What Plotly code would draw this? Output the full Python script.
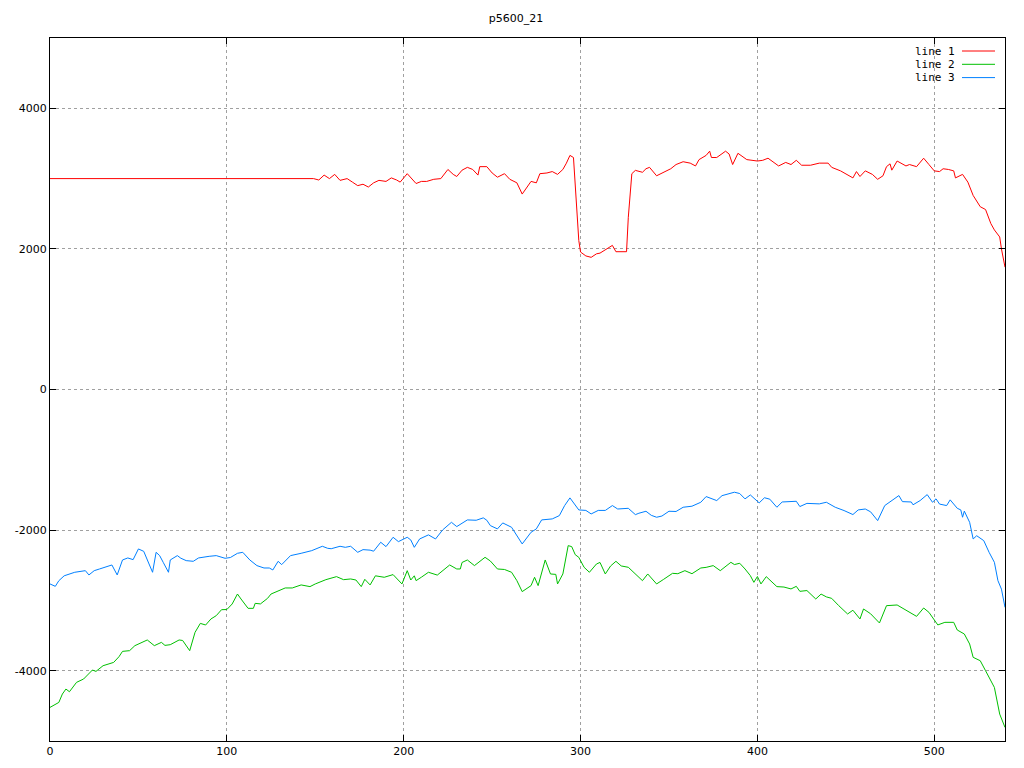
import plotly.graph_objects as go

# ---- data ----
line1_x = [0, 149, 152, 155, 158, 161, 164, 168, 171, 174, 177, 180, 183, 186, 190, 193, 196, 198, 202, 205,
           207, 210, 213, 217, 221, 225, 228, 230, 233, 236, 239, 242, 243, 247, 250, 253, 257, 260, 264, 267,
           270, 272, 275, 277, 281, 284, 287, 290, 292, 294, 296, 297, 298, 299, 300, 303, 306, 309, 311, 315,
           318, 320, 323, 326, 327, 329, 331, 335, 337, 339, 343, 347, 351, 354, 358, 362, 365, 367, 371, 373,
           374, 377, 382, 384, 386, 389, 394, 400, 403, 406, 412, 416, 419, 422, 425, 430, 435, 440, 442, 447,
           451, 454, 456, 458, 461, 465, 468, 471, 473, 475, 476, 479, 484, 486, 490, 494, 497, 500, 503, 505,
           508, 511, 512, 516, 519, 522, 526, 529, 532, 534, 537, 538, 540]
line1_y = [3000, 3000, 2980, 3050, 3000, 3060, 2975, 3000, 2950, 2900, 2920, 2880, 2940, 2975, 2960, 3010, 2980, 2950, 3070, 2990,
           2930, 2960, 2960, 2990, 3000, 3130, 3060, 3030, 3120, 3160, 3130, 3050, 3170, 3170, 3080, 3020, 3070, 2990, 2940, 2780,
           2880, 2960, 2940, 3070, 3080, 3100, 3060, 3130, 3220, 3330, 3300, 2900, 2500, 2120, 1955, 1900, 1880, 1930, 1940, 2000,
           2050, 1960, 1955, 1960, 2450, 3070, 3117, 3090, 3140, 3160, 3040, 3090, 3140, 3200, 3240, 3220, 3180, 3270, 3330, 3390,
           3300, 3300, 3390, 3350, 3200, 3360, 3270, 3250, 3260, 3290, 3180, 3230, 3200, 3260, 3190, 3190, 3220, 3220, 3160, 3110,
           3050, 3010, 3100, 3030, 3110, 3060, 2990, 3040, 3170, 3210, 3120, 3250, 3180, 3200, 3170, 3290, 3200, 3110, 3100, 3140,
           3130, 3110, 3010, 3060, 2950, 2760, 2600, 2560, 2360, 2270, 2170, 2000, 1740]

line2_x = [0, 5, 7, 9, 11, 15, 19, 24, 26, 30, 36, 39, 41, 45, 48, 55, 59, 63, 65, 68,
           73, 75, 79, 82, 85, 88, 91, 94, 97, 100, 103, 106, 108, 112, 115, 116, 119, 123, 125, 129,
           133, 137, 142, 147, 150, 156, 162, 166, 170, 173, 176, 178, 181, 184, 189, 194, 199, 202, 204, 206,
           207, 210, 214, 219, 226, 230, 232, 233, 236, 240, 246, 249, 253, 257, 261, 264, 267, 272, 274, 276,
           280, 283, 286, 287, 290, 293, 295, 297, 299, 302, 305, 309, 311, 314, 317, 320, 323, 327, 331, 335,
           338, 343, 347, 352, 355, 359, 363, 366, 368, 371, 375, 379, 383, 385, 387, 390, 393, 396, 398, 400,
           402, 405, 411, 415, 419, 422, 424, 428, 433, 436, 439, 442, 446, 451, 454, 458, 460, 464, 469, 473,
           479, 486, 490, 494, 497, 502, 506, 511, 513, 517, 520, 522, 526, 529, 534, 537, 540]
line2_y = [-4522, -4451, -4332, -4261, -4299, -4166, -4118, -3990, -4010, -3929, -3882, -3801, -3725, -3715, -3644, -3563, -3644, -3597, -3640, -3630,
           -3563, -3570, -3715, -3455, -3327, -3350, -3264, -3217, -3132, -3130, -3051, -2909, -2980, -3113, -3113, -3042, -3050, -2971, -2909, -2862,
           -2823, -2823, -2780, -2804, -2766, -2705, -2662, -2705, -2695, -2710, -2804, -2700, -2780, -2650, -2671, -2633, -2766, -2577, -2710, -2650,
           -2719, -2670, -2600, -2640, -2496, -2553, -2553, -2460, -2425, -2505, -2387, -2440, -2553, -2560, -2600, -2719, -2875, -2790, -2671, -2790,
           -2425, -2624, -2630, -2766, -2624, -2221, -2235, -2350, -2387, -2529, -2600, -2482, -2460, -2624, -2510, -2444, -2510, -2529, -2620, -2719,
           -2624, -2766, -2700, -2615, -2620, -2577, -2620, -2577, -2539, -2530, -2505, -2577, -2505, -2458, -2490, -2472, -2553, -2648, -2743, -2660,
           -2766, -2662, -2804, -2810, -2837, -2800, -2871, -2860, -2980, -2910, -2950, -2971, -3075, -3193, -3140, -3264, -3122, -3190, -3321, -3075,
           -3065, -3170, -3227, -3108, -3170, -3349, -3312, -3312, -3421, -3478, -3620, -3810, -3858, -4000, -4238, -4617, -4807]

line3_x = [0, 3, 5, 8, 14, 20, 22, 25, 28, 32, 35, 38, 41, 44, 47, 50, 53, 56, 58, 60,
           62, 64, 67, 68, 72, 74, 77, 81, 84, 90, 94, 99, 102, 106, 109, 113, 117, 121, 124, 126,
           129, 131, 136, 142, 148, 154, 157, 159, 164, 167, 170, 174, 177, 181, 183, 187, 190, 194, 197, 202,
           204, 206, 209, 214, 218, 222, 227, 230, 236, 241, 245, 247, 249, 253, 256, 261, 264, 267, 272, 275,
           278, 284, 288, 291, 294, 297, 299, 303, 306, 310, 314, 318, 321, 327, 331, 333, 337, 340, 343, 346,
           350, 354, 358, 363, 368, 371, 373, 377, 380, 387, 390, 393, 396, 401, 404, 407, 411, 414, 422, 424,
           428, 435, 439, 444, 449, 454, 457, 461, 464, 468, 472, 476, 480, 482, 487, 488, 492, 496, 499, 501,
           503, 507, 509, 513, 515, 516, 517, 520, 522, 524, 528, 531, 534, 536, 538, 540]
line3_y = [-2766, -2800, -2720, -2650, -2600, -2577, -2638, -2577, -2553, -2520, -2496, -2638, -2425, -2396, -2420, -2268, -2302, -2482, -2600, -2316,
           -2363, -2458, -2600, -2425, -2363, -2400, -2434, -2444, -2396, -2373, -2363, -2401, -2390, -2330, -2316, -2425, -2505, -2539, -2539, -2567,
           -2444, -2491, -2363, -2330, -2292, -2230, -2259, -2265, -2230, -2245, -2230, -2316, -2278, -2285, -2300, -2173, -2235, -2102, -2164, -2102,
           -2140, -2245, -2126, -2068, -2126, -1998, -1889, -1950, -1855, -1860, -1826, -1860, -1936, -1983, -1898, -1960, -2078, -2197, -2031, -1983,
           -1855, -1841, -1794, -1651, -1542, -1651, -1713, -1720, -1770, -1720, -1720, -1651, -1700, -1690, -1780, -1760, -1732, -1790, -1817, -1800,
           -1732, -1735, -1675, -1660, -1604, -1523, -1540, -1580, -1510, -1461, -1480, -1556, -1500, -1613, -1540, -1560, -1675, -1600, -1590, -1665,
           -1620, -1627, -1604, -1675, -1722, -1779, -1713, -1700, -1740, -1865, -1651, -1580, -1509, -1595, -1600, -1640, -1580, -1495, -1604, -1555,
           -1630, -1651, -1570, -1690, -1713, -1817, -1730, -1889, -2126, -2080, -2150, -2316, -2458, -2719, -2840, -3099]

series_names = ["line 1", "line 2", "line 3"]
series_colors = ["#ff0000", "#00c000", "#0080ff"]

x_tick_vals = [0, 100, 200, 300, 400, 500]
x_tick_text = ["0", "100", "200", "300", "400", "500"]
y_tick_vals = [-4000, -2000, 0, 2000, 4000]
y_tick_text = ["-4000", "-2000", "0", "2000", "4000"]

chart_title = "p5600_21"

# ---- figure ----
fig = go.Figure()
for xs, ys, name, col in zip([line1_x, line2_x, line3_x], [line1_y, line2_y, line3_y],
                             series_names, series_colors):
    fig.add_trace(go.Scatter(x=xs, y=ys, mode="lines", name=name,
                             line=dict(color=col, width=1), showlegend=False))

font_main = "DejaVu Sans, sans-serif"
axis_common = dict(showline=True, linecolor="black", linewidth=1, mirror="ticks",
                   ticks="inside", ticklen=6, tickcolor="black", tickwidth=1,
                   showgrid=True, gridcolor="#a0a0a0", griddash="dot", gridwidth=1,
                   zeroline=False, tickfont=dict(family=font_main, size=11, color="black"))

fig.update_xaxes(range=[0, 540], tickvals=x_tick_vals, ticktext=x_tick_text, **axis_common)
fig.update_yaxes(range=[-5000, 5000], tickvals=y_tick_vals, ticktext=y_tick_text, **axis_common)

# page body has an 8px margin; target screen-pixel box of the plot area
OFF = 8
W, H = 1024 - OFF, 768 - OFF
L, R, T, B = 50, 1005, 38, 741   # screen pixels
def px(p):
    return (p - L) / (R - L)
def py(q):
    return (B - q) / (B - T)

shapes = []
annotations = []
for i, (name, col) in enumerate(zip(series_names, series_colors)):
    yc = 51 + 13.3 * i
    annotations.append(dict(x=px(957), y=py(yc), xref="paper", yref="paper", text=name,
                            showarrow=False, xanchor="right", yanchor="middle",
                            font=dict(family="DejaVu Sans Mono, monospace", size=11, color="black")))
    shapes.append(dict(type="line", xref="paper", yref="paper", x0=px(962), x1=px(995),
                       y0=py(yc), y1=py(yc), line=dict(color=col, width=1)))

fig.update_layout(
    width=W, height=H,
    margin=dict(l=L - OFF, r=W - (R - OFF), t=T - OFF, b=H - (B - OFF), autoexpand=False),
    paper_bgcolor="white", plot_bgcolor="white",
    title=dict(text=chart_title, x=0.5, xanchor="center", y=1 - (18 - OFF) / H, yanchor="middle",
               font=dict(family=font_main, size=11, color="black")),
    shapes=shapes, annotations=annotations, showlegend=False,
)

fig.write_html("out.html")
